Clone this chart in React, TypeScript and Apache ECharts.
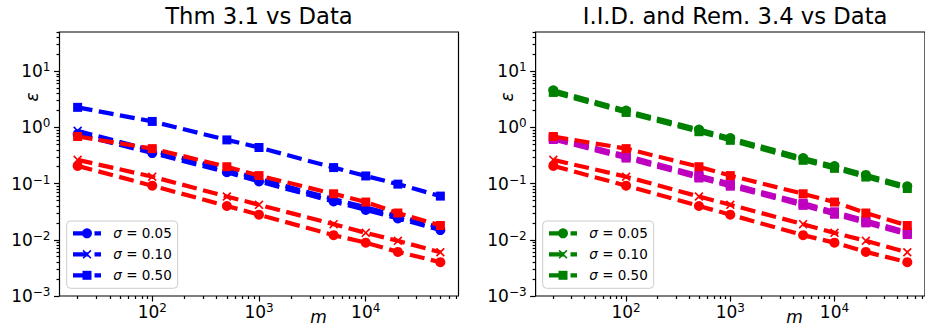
import React, { useEffect, useRef } from "react";
import * as echarts from "echarts";

// ---- data ----
const M = [20, 100, 500, 1000, 5000, 10000, 20000, 50000];

// Thm 3.1 bound (left panel, blue)
const THM_S05 = [0.76, 0.35, 0.16, 0.109, 0.048, 0.034, 0.024, 0.0149];
const THM_S10 = [0.87, 0.39, 0.178, 0.121, 0.053, 0.038, 0.0265, 0.0165];
const THM_S50 = [2.28, 1.28, 0.6, 0.44, 0.193, 0.137, 0.098, 0.06];

// empirical data (red, both panels)
const DATA_S05 = [0.207, 0.092, 0.04, 0.028, 0.0121, 0.0089, 0.0061, 0.004];
const DATA_S10 = [0.265, 0.133, 0.059, 0.042, 0.019, 0.0133, 0.0096, 0.006];
const DATA_S50 = [0.69, 0.42, 0.2, 0.139, 0.066, 0.047, 0.03, 0.018];

// I.I.D. bound (right panel, green)
const IID_S05 = [4.6, 2.0, 0.92, 0.65, 0.285, 0.205, 0.143, 0.09];
const IID_S10 = [4.4, 1.93, 0.88, 0.62, 0.272, 0.196, 0.137, 0.086];
const IID_S50 = [4.2, 1.85, 0.84, 0.59, 0.26, 0.187, 0.131, 0.082];

// Rem. 3.4 bound (right panel, magenta)
const REM_S05 = [0.67, 0.315, 0.14, 0.1, 0.045, 0.0315, 0.022, 0.0137];
const REM_S10 = [0.64, 0.3, 0.133, 0.095, 0.043, 0.03, 0.021, 0.013];
const REM_S50 = [0.61, 0.285, 0.126, 0.09, 0.041, 0.0285, 0.02, 0.0124];

const SIGMA_LABELS = ["0.05", "0.10", "0.50"];
const X_MAJOR = [100, 1000, 10000];
const Y_MAJOR = [0.001, 0.01, 0.1, 1, 10];
const TITLES = ["Thm 3.1 vs Data", "I.I.D. and Rem. 3.4 vs Data"];
const X_LABEL = "m";
const Y_LABEL = "ε";

const FONT = "DejaVu Sans";
const BLUE = "#0000ff";
const RED = "#ff0000";
const GREEN = "#008000";
const MAGENTA = "#bf00bf";
const LEGEND_COLORS = [BLUE, GREEN];

const X_PTS = [
  [0, 1.3], [1.3, 0], [5, 3.7], [8.7, 0], [10, 1.3], [6.3, 5],
  [10, 8.7], [8.7, 10], [5, 6.3], [1.3, 10], [0, 8.7], [3.7, 5],
];
const X_SYMBOL = "path://M" + X_PTS.map((p) => p.join(",")).join("L") + "Z";
const MARKERS = ["circle", X_SYMBOL, "rect"];
const MARKER_SIZES = [10, 9, 9];
const LINE_W = 4.2;
const DASH = [15, 6.5];

function minorTicks(lo: number, hi: number): number[] {
  const out: number[] = [];
  for (let e = lo; e <= hi; e++) {
    for (let k = 2; k <= 9; k++) out.push(k * Math.pow(10, e));
  }
  return out;
}

const fmtPow = (v: number) => {
  const e = Math.round(Math.log10(v));
  const s = e < 0 ? "\u2212" + -e : String(e);
  return `{b|10}{s|${s}}`;
};

const labelRich = {
  b: { fontSize: 17, lineHeight: 20, fontFamily: FONT, color: "#000" },
  s: { fontSize: 12, lineHeight: 12, verticalAlign: "top", fontFamily: FONT, color: "#000" },
};

export default function App() {
  const ref = useRef<HTMLDivElement>(null);

  useEffect(() => {
    if (!ref.current) return;
    const chart = echarts.init(ref.current, undefined, { renderer: "svg" });

    const lx = M.map((v) => Math.log10(v));
    const span = lx[lx.length - 1] - lx[0];
    const XMIN = Math.pow(10, lx[0] - 0.05 * span);
    const XMAX = Math.pow(10, lx[lx.length - 1] + 0.05 * span);
    const YMIN = 0.001;
    const YMAX = 50;

    const grids = [
      { left: 59.5, top: 32, width: 399, height: 264 },
      { left: 535.6, top: 32, width: 399, height: 264 },
    ];

    const tickLine = { color: "#000", width: 1.2 };
    const xAxes: any[] = [];
    const yAxes: any[] = [];
    [0, 1].forEach((g) => {
      xAxes.push({
        gridIndex: g, type: "log", logBase: 10, min: XMIN, max: XMAX, position: "bottom",
        axisLine: { show: false, onZero: false }, splitLine: { show: false },
        axisTick: { show: true, customValues: X_MAJOR, length: 5.5, lineStyle: tickLine },
        axisLabel: { customValues: X_MAJOR, formatter: fmtPow, rich: labelRich, margin: 6 },
      });
      xAxes.push({
        gridIndex: g, type: "log", logBase: 10, min: XMIN, max: XMAX, position: "bottom",
        axisLine: { show: false, onZero: false }, splitLine: { show: false },
        axisTick: { show: true, customValues: minorTicks(1, 4), length: 3, lineStyle: tickLine },
        axisLabel: { show: false },
      });
      yAxes.push({
        gridIndex: g, type: "log", logBase: 10, min: YMIN, max: YMAX, position: "left",
        axisLine: { show: false, onZero: false }, splitLine: { show: false },
        axisTick: { show: true, customValues: Y_MAJOR, length: 5.5, lineStyle: tickLine },
        axisLabel: { customValues: Y_MAJOR, formatter: fmtPow, rich: labelRich, margin: 9 },
      });
      yAxes.push({
        gridIndex: g, type: "log", logBase: 10, min: YMIN, max: YMAX, position: "left",
        axisLine: { show: false, onZero: false }, splitLine: { show: false },
        axisTick: { show: true, customValues: minorTicks(-3, 1), length: 3, lineStyle: tickLine },
        axisLabel: { show: false },
      });
    });

    const series: any[] = [];
    const addSeries = (name: string, vals: number[], color: string, mk: number, g: number) => {
      series.push({
        name, type: "line", xAxisIndex: g * 2, yAxisIndex: g * 2,
        data: M.map((m, i) => [m, vals[i]]),
        z: 2 + series.length,
        symbol: MARKERS[mk], symbolSize: MARKER_SIZES[mk], showSymbol: true, silent: true,
        lineStyle: { color, width: LINE_W, type: DASH, cap: "butt" },
        itemStyle: { color },
        emphasis: { disabled: true },
      });
    };

    // left panel
    addSeries("thm05", THM_S05, BLUE, 0, 0);
    addSeries("thm10", THM_S10, BLUE, 1, 0);
    addSeries("thm50", THM_S50, BLUE, 2, 0);
    addSeries("dataL05", DATA_S05, RED, 0, 0);
    addSeries("dataL10", DATA_S10, RED, 1, 0);
    addSeries("dataL50", DATA_S50, RED, 2, 0);
    // right panel
    addSeries("iid05", IID_S05, GREEN, 0, 1);
    addSeries("iid10", IID_S10, GREEN, 1, 1);
    addSeries("iid50", IID_S50, GREEN, 2, 1);
    addSeries("rem05", REM_S05, MAGENTA, 2, 1);
    addSeries("rem10", REM_S10, MAGENTA, 2, 1);
    addSeries("rem50", REM_S50, MAGENTA, 2, 1);
    addSeries("dataR05", DATA_S05, RED, 0, 1);
    addSeries("dataR10", DATA_S10, RED, 1, 1);
    addSeries("dataR50", DATA_S50, RED, 2, 1);

    const graphic: any[] = [];
    grids.forEach((gr, g) => {
      graphic.push({
        type: "text", x: gr.left + gr.width / 2, y: 16,
        style: { text: TITLES[g], font: `22.7px "${FONT}"`, fill: "#000", textAlign: "center", textVerticalAlign: "middle" },
      });
    });
    [[31.5, 97], [507.3, 97]].forEach(([x, y]) => {
      graphic.push({
        type: "text", x, y, rotation: Math.PI / 2,
        style: { text: Y_LABEL, font: `italic 17px "${FONT}"`, fill: "#000", textAlign: "center", textVerticalAlign: "middle" },
      });
    });
    [[318.5, 317], [794.5, 317]].forEach(([x, y]) => {
      graphic.push({
        type: "text", x, y,
        style: { text: X_LABEL, font: `italic 17px "${FONT}"`, fill: "#000", textAlign: "center", textVerticalAlign: "middle" },
      });
    });

    // legends (drawn as graphic so layout matches matplotlib)
    const LEG_LEFT = [66.7, 542.7];
    const LEG_TOP = 221;
    [0, 1].forEach((g) => {
      const x0 = LEG_LEFT[g];
      const color = LEGEND_COLORS[g];
      graphic.push({
        type: "rect", z: 100,
        shape: { x: x0, y: LEG_TOP, width: 111, height: 67.3, r: 4 },
        style: { fill: "rgba(255,255,255,0.8)", stroke: "#cccccc", lineWidth: 1 },
      });
      SIGMA_LABELS.forEach((lab, i) => {
        const cy = LEG_TOP + 12.3 + 21 * i;
        const mx = x0 + 20.3;
        graphic.push({
          type: "line", z: 101,
          shape: { x1: x0 + 6.3, y1: cy, x2: x0 + 34.3, y2: cy },
          style: { stroke: color, lineWidth: LINE_W, lineDash: DASH },
        });
        if (i === 0) {
          graphic.push({ type: "circle", z: 102, shape: { cx: mx, cy, r: 5 }, style: { fill: color } });
        } else if (i === 1) {
          graphic.push({
            type: "polygon", z: 102,
            shape: { points: X_PTS.map(([px, py]) => [mx - 4.5 + px * 0.9, cy - 4.5 + py * 0.9]) },
            style: { fill: color },
          });
        } else {
          graphic.push({ type: "rect", z: 102, shape: { x: mx - 4.5, y: cy - 4.5, width: 9, height: 9 }, style: { fill: color } });
        }
        graphic.push({
          type: "text", z: 102, x: x0 + 46.6, y: cy,
          style: {
            text: `{i|σ}{n| = ${lab}}`,
            textVerticalAlign: "middle",
            rich: {
              i: { fontStyle: "italic", fontSize: 13.5, fontFamily: FONT, fill: "#000" },
              n: { fontSize: 13.5, fontFamily: FONT, fill: "#000" },
            },
          },
        });
      });
    });

    chart.setOption({
      animation: false,
      textStyle: { fontFamily: FONT },
      grid: grids.map((gr) => ({ ...gr, show: true, borderColor: "#000", borderWidth: 1.2, backgroundColor: "transparent", containLabel: false })),
      xAxis: xAxes,
      yAxis: yAxes,
      series,
      graphic,
    });

    return () => chart.dispose();
  }, []);

  return <div ref={ref} style={{ position: "absolute", left: 0, top: 0, width: 925, height: 330 }} />;
}
